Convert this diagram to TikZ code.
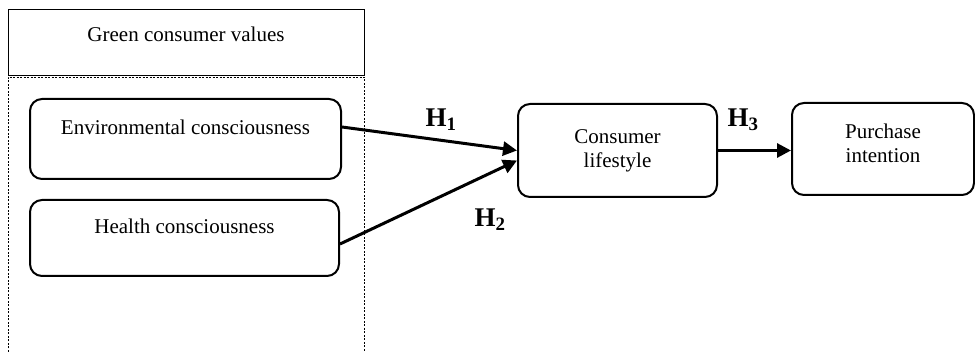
\documentclass[tikz,border=0pt]{standalone}
\usepackage{fontspec}
\setmainfont{Liberation Serif}
\usepackage{tikz}
\usetikzlibrary{arrows.meta}
\newcommand{\harw}{-{Triangle[length=14pt,width=14pt]}}
\tikzset{
  valbox/.style={draw,line width=2pt,rounded corners=12pt,font=\fontsize{21}{24}\selectfont},
  hlabel/.style={font=\bfseries\fontsize{27}{30}\selectfont},
  hpath/.style={line width=3pt,\harw}
}

\begin{document}
\begin{tikzpicture}[x=1pt,y=-1pt]
\useasboundingbox (0,0) rectangle (975,352);
%green consumer values group
\draw[line width=1pt] (8,10) rectangle (364,76);
\node[font=\fontsize{21}{24}\selectfont] (gcv) at (186,34) {Green consumer values};
\draw[line width=0.8pt,dash pattern=on 2pt off 1.5pt] (8,352) -- (8,77) -- (364,77) -- (364,352);
%boxes
\node[valbox,minimum width=311,minimum height=80,text height=16pt,text depth=25pt,anchor=north west] (env) at (29,98) {Environmental consciousness};
\node[valbox,minimum width=309,minimum height=76,text height=16pt,text depth=25pt,anchor=north west] (health) at (29,199) {Health consciousness};
\node[valbox,minimum width=199,minimum height=93,align=center,text depth=4pt,anchor=north west] (life) at (517,103) {Consumer\\lifestyle};
\node[valbox,minimum width=182,minimum height=92,align=center,text depth=12pt,anchor=north west] (purch) at (791,102) {Purchase\\intention};
%hypotheses
\draw[hpath] ([yshift=12pt]env.east) -- ([yshift=0pt]life.west);
\draw[hpath] ([yshift=-6pt]health.east) -- ([yshift=-10pt]life.west);
\draw[hpath] (life.east) -- (life.east -| purch.west);
\node[hlabel] (h1) at (441,120) {H\textsubscript{1}};
\node[hlabel] (h2) at (490,220) {H\textsubscript{2}};
\node[hlabel] (h3) at (743,120) {H\textsubscript{3}};
\end{tikzpicture}
\end{document}
